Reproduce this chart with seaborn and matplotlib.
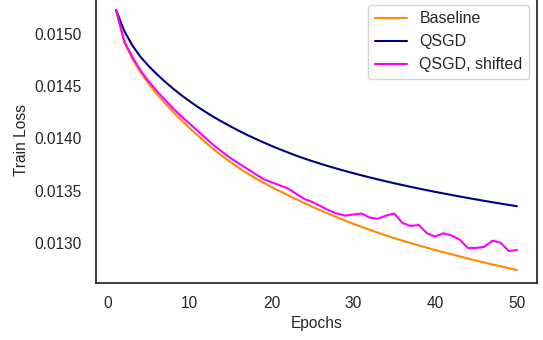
import numpy as np
import pandas as pd
import matplotlib
matplotlib.use("Agg")
import matplotlib.pyplot as plt
import seaborn as sns

# Training loss per epoch for each optimiser
epochs = list(range(1, 51))

baseline = [
    0.01523, 0.01492, 0.01476, 0.014632, 0.014522, 0.014423, 0.014335, 0.014252, 0.014173, 0.014098,
    0.014026, 0.013957, 0.013891, 0.013829, 0.013771, 0.013717, 0.013667, 0.01362, 0.013576, 0.013534,
    0.013494, 0.013456, 0.0134175, 0.01338, 0.0133442, 0.0133096, 0.0132761, 0.0132436, 0.0132121, 0.0131816,
    0.013152, 0.0131233, 0.0130955, 0.0130685, 0.0130438, 0.0130198, 0.0129965, 0.0129738, 0.0129517, 0.0129302,
    0.0129092, 0.0128887, 0.0128686, 0.0128489, 0.0128296, 0.0128107, 0.0127922, 0.012774, 0.0127561, 0.0127385,
]

qsgd = [
    0.01523, 0.01503, 0.01489, 0.01478, 0.014692, 0.014614, 0.014542, 0.014475, 0.014413, 0.014355,
    0.014301, 0.01425, 0.014202, 0.014157, 0.014114, 0.014073, 0.014034, 0.013997, 0.013962, 0.013928,
    0.013896, 0.013865, 0.013835, 0.0138075, 0.0137813, 0.0137563, 0.0137324, 0.0137095, 0.0136875, 0.0136663,
    0.0136458, 0.013626, 0.0136068, 0.0135882, 0.0135702, 0.0135527, 0.0135357, 0.0135192, 0.0135032, 0.0134876,
    0.0134724, 0.0134576, 0.0134431, 0.0134289, 0.013415, 0.0134014, 0.0133881, 0.0133751, 0.0133623, 0.0133497,
]

qsgd_shifted = [
    0.01523, 0.01493, 0.01478, 0.01465, 0.014545, 0.014452, 0.014368, 0.014285, 0.01421, 0.01414,
    0.01407, 0.01400, 0.01393, 0.01387, 0.01381, 0.01376, 0.01371, 0.01366, 0.01361, 0.01358,
    0.01355, 0.01352, 0.01347, 0.01342, 0.01339, 0.01335, 0.01331, 0.01328, 0.01326, 0.01327,
    0.01328, 0.01324, 0.01323, 0.01326, 0.01328, 0.01319, 0.01316, 0.01317, 0.01309, 0.01306,
    0.01309, 0.01307, 0.01303, 0.01295, 0.01295, 0.01296, 0.01302, 0.01300, 0.01292, 0.01293,
]

series_names = ["Baseline", "QSGD", "QSGD, shifted"]
series_colors = ["darkorange", "navy", "magenta"]

df = pd.DataFrame({
    "Epochs": epochs * 3,
    "Train Loss": baseline + qsgd + qsgd_shifted,
    "Method": [series_names[0]] * len(epochs)
              + [series_names[1]] * len(epochs)
              + [series_names[2]] * len(epochs),
})

sns.set_style("white")
plt.rcParams["font.family"] = ["Liberation Sans", "DejaVu Sans"]

fig = plt.figure(figsize=(5.43, 3.40), dpi=100)
ax = fig.add_axes([0.1768, 0.1676, 0.8122, 0.8412])

sns.lineplot(
    data=df, x="Epochs", y="Train Loss", hue="Method",
    palette=dict(zip(series_names, series_colors)),
    linewidth=1.5, ax=ax,
)

ax.set_xticks([0, 10, 20, 30, 40, 50])
ax.set_yticks([0.0130, 0.0135, 0.0140, 0.0145, 0.0150])
ax.set_yticklabels(["0.0130", "0.0135", "0.0140", "0.0145", "0.0150"])
ax.tick_params(axis="both", labelsize=11.2, length=0, colors=".15")
ax.tick_params(axis="x", pad=9)
ax.tick_params(axis="y", pad=10.5)
ax.set_xlabel("Epochs", fontsize=11.2, color=".15")
ax.set_ylabel("Train Loss", fontsize=11.2, color=".15")

for spine in ax.spines.values():
    spine.set_color(".15")
    spine.set_linewidth(1.25)

leg = ax.legend(
    loc="upper right", bbox_to_anchor=(529 / 543, 335 / 340),
    bbox_transform=fig.transFigure, borderaxespad=0, fontsize=11.5,
    frameon=True,
)
leg.get_frame().set_edgecolor("0.8")

fig.savefig("out.png", dpi=100)
